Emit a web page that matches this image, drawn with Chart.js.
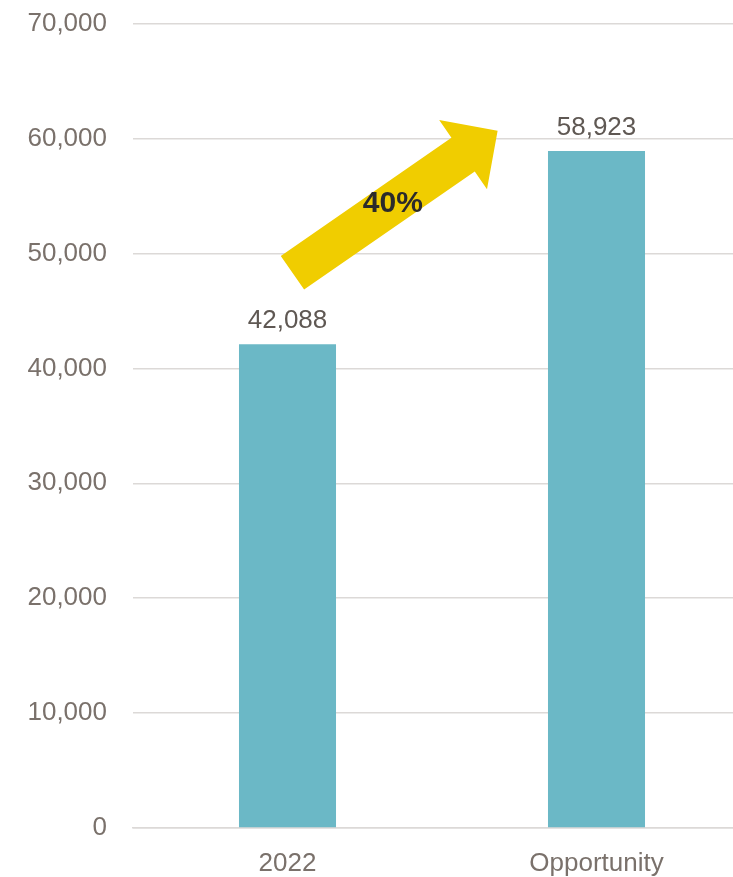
<!DOCTYPE html>
<html>
<head>
<meta charset="utf-8">
<script src="https://cdn.jsdelivr.net/npm/chart.js@4.4.0/dist/chart.umd.min.js"></script>
<style>
    html, body { margin: 0; padding: 0; background: #fff; overflow: hidden; }
    /* plot runs a bit past the right edge and top in the original */
    #wrap { width: 751px; height: 895px; margin-top: -18px; }
</style>
</head>
<body>
<div id="wrap"><canvas id="chart"></canvas></div>
<script>
// Chart data
const categories = ['2022', 'Opportunity'];
const values = [42088, 58923];
const yTicks = [0, 10000, 20000, 30000, 40000, 50000, 60000, 70000];

// Growth arrow: tail and tip in data units (category index, value)
const arrowTail = [0.016, 48320];
const arrowTip = [0.68, 60680];
const arrowText = '40%';
const arrowTextPos = [0.341, 54330];

const textColor = '#7a716b';
const gridColor = '#dcd9d7';

// Value labels above each bar
const barLabels = {
    id: 'barLabels',
    afterDatasetsDraw(chart) {
        const ctx = chart.ctx;
        const meta = chart.getDatasetMeta(0);
        ctx.save();
        ctx.font = '26px "Liberation Sans", Arial, sans-serif';
        ctx.fillStyle = '#5f5853';
        ctx.textAlign = 'center';
        ctx.textBaseline = 'alphabetic';
        meta.data.forEach((bar, i) => {
            ctx.fillText(values[i].toLocaleString('en-US'), bar.x, bar.y - 16);
        });
        ctx.restore();
    }
};

// Yellow arrow with percentage
const growthArrow = {
    id: 'growthArrow',
    afterDatasetsDraw(chart) {
        const ctx = chart.ctx;
        const xs = chart.scales.x;
        const ys = chart.scales.y;
        const x0 = xs.getPixelForValue(arrowTail[0]);
        const y0 = ys.getPixelForValue(arrowTail[1]);
        const x1 = xs.getPixelForValue(arrowTip[0]);
        const y1 = ys.getPixelForValue(arrowTip[1]);
        const dx = x1 - x0, dy = y1 - y0;
        const len = Math.sqrt(dx * dx + dy * dy);
        const ux = dx / len, uy = dy / len;
        const nx = -uy, ny = ux;
        const shaftW = 41 / 2, headW = 84 / 2, headL = 42;
        const bx = x1 - ux * headL, by = y1 - uy * headL;
        ctx.save();
        ctx.fillStyle = '#f0cd00';
        ctx.beginPath();
        ctx.moveTo(x0 + nx * shaftW, y0 + ny * shaftW);
        ctx.lineTo(bx + nx * shaftW, by + ny * shaftW);
        ctx.lineTo(bx + nx * headW, by + ny * headW);
        ctx.lineTo(x1, y1);
        ctx.lineTo(bx - nx * headW, by - ny * headW);
        ctx.lineTo(bx - nx * shaftW, by - ny * shaftW);
        ctx.lineTo(x0 - nx * shaftW, y0 - ny * shaftW);
        ctx.closePath();
        ctx.fill();

        ctx.font = 'bold 30px "Liberation Sans", Arial, sans-serif';
        ctx.fillStyle = '#2b2b2b';
        ctx.textAlign = 'center';
        ctx.textBaseline = 'middle';
        ctx.fillText(arrowText, xs.getPixelForValue(arrowTextPos[0]), ys.getPixelForValue(arrowTextPos[1]));
        ctx.restore();
    }
};

const chart = new Chart(document.getElementById('chart'), {
    type: 'bar',
    data: {
        labels: categories,
        datasets: [{
            data: values,
            backgroundColor: '#6bb8c6',
            barPercentage: 0.314,
            categoryPercentage: 1
        }]
    },
    options: {
        responsive: true,
        maintainAspectRatio: false,
        animation: false,
        layout: {
            padding: { top: 8, right: 0, left: 0, bottom: 0 }
        },
        plugins: {
            legend: { display: false },
            tooltip: { enabled: false }
        },
        scales: {
            x: {
                grid: { display: false, drawTicks: false },
                border: { display: true, color: gridColor, width: 1.5 },
                ticks: {
                    color: textColor,
                    font: { family: '"Liberation Sans", Arial, sans-serif', size: 26 },
                    padding: 20
                },
                afterFit(scale) { scale.height = 49; }
            },
            y: {
                min: 0,
                max: 70000,
                afterBuildTicks(scale) {
                    scale.ticks = yTicks.map(v => ({ value: v }));
                },
                grid: { color: gridColor, lineWidth: 1.5, drawTicks: false },
                border: { display: false },
                ticks: {
                    color: textColor,
                    font: { family: '"Liberation Sans", Arial, sans-serif', size: 26 },
                    padding: 26,
                    callback: v => v.toLocaleString('en-US')
                },
                afterFit(scale) { scale.width = 133; }
            }
        }
    },
    plugins: [growthArrow, barLabels]
});
</script>
</body>
</html>
